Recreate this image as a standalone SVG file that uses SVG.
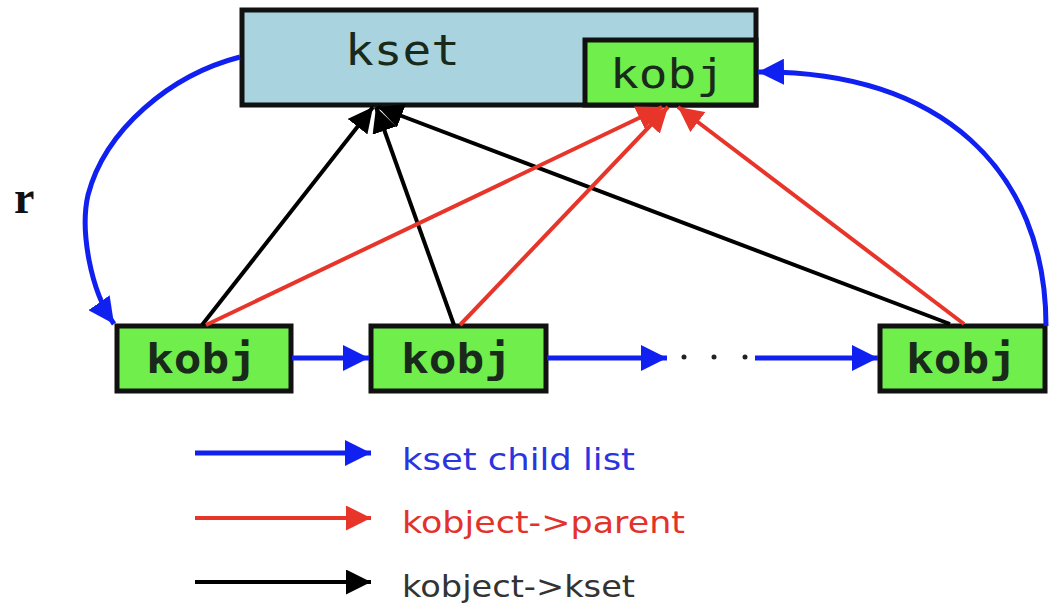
<svg xmlns="http://www.w3.org/2000/svg" width="1056" height="612" viewBox="0 0 1056 612">
<defs>
<style>
.box{stroke:#111;stroke-width:5}
.kset{fill:#a9d4df}
.kobj{fill:#6fee4c}
.mono{font-family:"DejaVu Sans Mono",monospace;fill:#1a2a1a}
.leg{font-family:"DejaVu Sans",sans-serif;font-size:31px}
.blue{stroke:#1020f0;fill:none;stroke-width:5}
.red{stroke:#e8352a;fill:none;stroke-width:4}
.black{stroke:#000;fill:none;stroke-width:4}
</style>
<marker id="ab" viewBox="0 0 10 10" refX="10" refY="5" markerUnits="userSpaceOnUse" markerWidth="26" markerHeight="26" orient="auto"><path d="M0,0 L10,5 L0,10 z" fill="#1020f0"/></marker>
<marker id="ar" viewBox="0 0 10 10" refX="10" refY="5" markerUnits="userSpaceOnUse" markerWidth="25" markerHeight="25" orient="auto"><path d="M0,0 L10,5 L0,10 z" fill="#e8352a"/></marker>
<marker id="ak" viewBox="0 0 10 10" refX="10" refY="5" markerUnits="userSpaceOnUse" markerWidth="25" markerHeight="25" orient="auto"><path d="M0,0 L10,5 L0,10 z" fill="#000"/></marker>
</defs>
<rect width="1056" height="612" fill="#fff"/>

<g id="kset">
<rect class="box kset" x="242" y="10" width="514" height="95"/>
<text class="mono" x="345" y="65" font-size="43" fill="#1c2a30" textLength="115" lengthAdjust="spacingAndGlyphs">kset</text>
</g>
<g id="kset-kobj">
<rect class="box kobj" x="585" y="40" width="171" height="65"/>
<text class="mono" x="610" y="88" font-size="40" textLength="115" lengthAdjust="spacingAndGlyphs">kobj</text>
</g>
<g id="kobj1">
<rect class="box kobj" x="117" y="326" width="174" height="65"/>
<text class="mono" x="146" y="373" font-size="41" font-weight="bold" textLength="111" lengthAdjust="spacingAndGlyphs">kobj</text>
</g>
<g id="kobj2">
<rect class="box kobj" x="371" y="326" width="175" height="65"/>
<text class="mono" x="401" y="373" font-size="41" font-weight="bold" textLength="111" lengthAdjust="spacingAndGlyphs">kobj</text>
</g>
<g id="kobj3">
<rect class="box kobj" x="880" y="326" width="165" height="65"/>
<text class="mono" x="906" y="373" font-size="41" font-weight="bold" textLength="111" lengthAdjust="spacingAndGlyphs">kobj</text>
</g>

<g id="connectors">
<path class="blue" d="M240,57 C170,75 105,130 88,195 C80,230 90,290 114,324" marker-end="url(#ab)"/>
<path class="blue" d="M1046,326 C1046,170 940,70 758,72" marker-end="url(#ab)"/>
<line class="blue" x1="292" y1="358" x2="369" y2="358" marker-end="url(#ab)"/>
<line class="blue" x1="547" y1="358" x2="667" y2="358" marker-end="url(#ab)"/>
<line class="blue" x1="755" y1="358" x2="878" y2="358" marker-end="url(#ab)"/>
<g fill="#222"><circle cx="684" cy="357" r="2.5"/><circle cx="714" cy="357" r="2.5"/><circle cx="745" cy="357" r="2.5"/></g>
<line class="black" x1="202" y1="325" x2="373" y2="107" marker-end="url(#ak)"/>
<line class="black" x1="454" y1="325" x2="376" y2="107" marker-end="url(#ak)"/>
<line class="black" x1="950" y1="324" x2="378" y2="107" marker-end="url(#ak)"/>
<line class="red" x1="206" y1="325" x2="662" y2="107" marker-end="url(#ar)"/>
<line class="red" x1="460" y1="325" x2="668" y2="107" marker-end="url(#ar)"/>
<line class="red" x1="964" y1="324" x2="678" y2="107" marker-end="url(#ar)"/>
</g>

<g id="r-label"><text x="14" y="213" font-family="Liberation Serif,serif" font-size="46" font-weight="bold" fill="#111">r</text></g>

<g id="legend">
<line class="blue" x1="195" y1="453" x2="371" y2="453" marker-end="url(#ab)"/>
<line class="red" x1="195" y1="518" x2="371" y2="518" stroke-width="5" marker-end="url(#ar)"/>
<line class="black" x1="195" y1="582" x2="371" y2="582" stroke-width="5" marker-end="url(#ak)"/>
<text class="leg" x="402" y="470" fill="#2a35e0" textLength="233" lengthAdjust="spacingAndGlyphs">kset child list</text>
<text class="leg" x="402" y="533" fill="#e3322b" textLength="283" lengthAdjust="spacingAndGlyphs">kobject-&gt;parent</text>
<text class="leg" x="402" y="597" fill="#333" textLength="233" lengthAdjust="spacingAndGlyphs">kobject-&gt;kset</text>
</g>
</svg>
